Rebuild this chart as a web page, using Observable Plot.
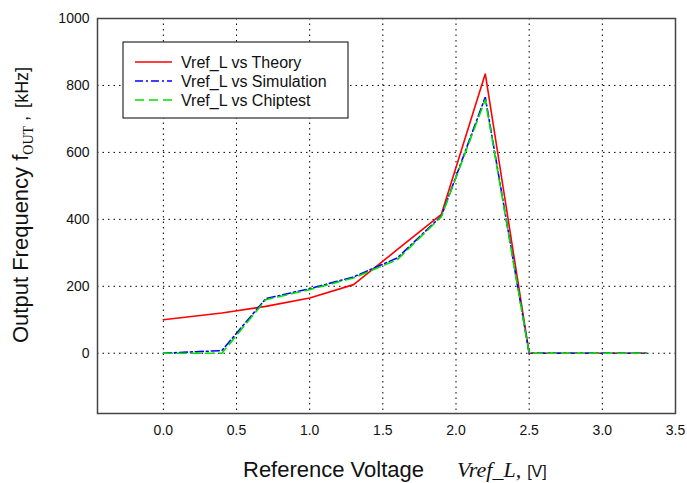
<!DOCTYPE html>
<html>
<head>
<meta charset="utf-8">
<script src="https://cdn.jsdelivr.net/npm/d3@7"></script>
<script src="https://cdn.jsdelivr.net/npm/@observablehq/plot@0.6"></script>
<style>
  html, body { margin: 0; padding: 0; background: #fff; }
  #chart { width: 687px; height: 483px; }
</style>
</head>
<body>
<div id="chart"></div>
<script>
// Data
const voltages   = [0.0, 0.4, 0.7, 1.0, 1.3, 1.6, 1.9, 2.2, 2.5, 2.8, 3.1, 3.3];
const theory     = [100, 120, 140, 165, 205, 310, 415, 835, 0, 0, 0, 0];
const simulation = [0, 8, 163, 193, 228, 285, 410, 765, 0, 0, 0, 0];
const chiptest   = [0, 0, 160, 190, 225, 280, 408, 758, 0, 0, 0, 0];
const seriesNames = ["Vref_L vs Theory", "Vref_L vs Simulation", "Vref_L vs Chiptest"];
const xTicks = [0.0, 0.5, 1.0, 1.5, 2.0, 2.5, 3.0, 3.5];
const yTicks = [0, 200, 400, 600, 800, 1000];

const seriesStyles = [
  {stroke: "#ff0000", dash: null},
  {stroke: "#0000ff", dash: "8,3,2,3"},
  {stroke: "#00e000", dash: "9,5"}
];
const seriesValues = [theory, simulation, chiptest];

const rows = (vals) => voltages.map((v, i) => ({v, f: vals[i]}));

const gridStyle = {stroke: "#000", strokeOpacity: 1, strokeWidth: 1, strokeDasharray: "1.5,4"};

const chart = Plot.plot({
  width: 687,
  height: 483,
  marginLeft: 97,
  marginTop: 18,
  marginRight: 12,
  marginBottom: 70,
  style: {fontFamily: "Arial, 'Liberation Sans', sans-serif", fontSize: "14px", color: "#111", background: "#fff"},
  x: {domain: [-0.45, 3.5]},
  y: {domain: [-180, 1000]},
  marks: [
    Plot.gridX(xTicks, gridStyle),
    Plot.gridY(yTicks, gridStyle),
    Plot.axisX(xTicks, {tickFormat: d3.format(".1f"), tickSize: 0, tickPadding: 12, label: null, fontSize: 14}),
    Plot.axisY(yTicks, {tickFormat: d3.format("d"), tickSize: 0, tickPadding: 8, label: null, fontSize: 14}),
    ...seriesValues.map((vals, i) => Plot.line(rows(vals), {
      x: "v", y: "f",
      stroke: seriesStyles[i].stroke,
      strokeWidth: 1.6,
      strokeDasharray: seriesStyles[i].dash,
      strokeLinejoin: "miter"
    })),
    Plot.frame({stroke: "#444", strokeWidth: 1.5})
  ]
});

document.getElementById("chart").appendChild(chart);

const svg = d3.select(chart);
const sans = "Arial, 'Liberation Sans', sans-serif";
const serif = "'Times New Roman', 'Liberation Serif', serif";

// Legend
const lg = svg.append("g").attr("text-anchor", "start");
lg.append("rect").attr("x", 123).attr("y", 42).attr("width", 225).attr("height", 76)
  .attr("fill", "#fff").attr("stroke", "#000").attr("stroke-width", 1);
seriesNames.forEach((name, i) => {
  const y = 62 + i * 19;
  lg.append("line").attr("x1", 135).attr("x2", 172).attr("y1", y).attr("y2", y)
    .attr("stroke", seriesStyles[i].stroke).attr("stroke-width", 1.6)
    .attr("stroke-dasharray", seriesStyles[i].dash);
  lg.append("text").attr("x", 181).attr("y", y).attr("dy", "0.35em")
    .attr("text-anchor", "start")
    .attr("font-family", sans).attr("font-size", 16)
    .attr("fill", "#111").text(name);
});

// Y axis label
const yl = svg.append("text")
  .attr("transform", "translate(28,343) rotate(-90)")
  .attr("text-anchor", "start")
  .attr("font-family", sans)
  .attr("fill", "#111");
yl.append("tspan").attr("font-size", 22).text("Output Frequency f");
yl.append("tspan").attr("font-size", 14).attr("font-family", serif).attr("dy", 5).text("OUT");
yl.append("tspan").attr("font-size", 18).attr("dy", -5).text(" ,");
yl.append("tspan").attr("font-size", 18).attr("dx", 8).text("[kHz]");

// X axis label
const xl = svg.append("text").attr("y", 477).attr("fill", "#111").attr("text-anchor", "start");
xl.append("tspan").attr("x", 243).attr("font-family", sans).attr("font-size", 22).text("Reference Voltage");
xl.append("tspan").attr("x", 457).attr("font-family", serif).attr("font-style", "italic").attr("font-size", 22).text("Vref_L,");
xl.append("tspan").attr("dx", 6).attr("font-family", sans).attr("font-size", 16).text("[V]");
</script>
</body>
</html>
